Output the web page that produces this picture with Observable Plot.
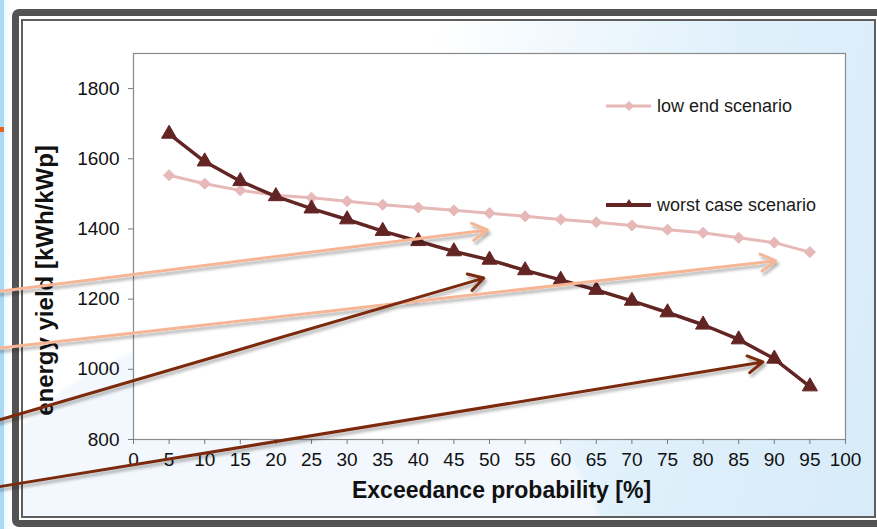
<!DOCTYPE html>
<html><head><meta charset="utf-8">
<script src="https://cdn.jsdelivr.net/npm/d3@7"></script>
<script src="https://cdn.jsdelivr.net/npm/@observablehq/plot@0.6"></script>
<style>
html,body{margin:0;padding:0;background:#fff;}
#wrap{position:relative;width:877px;height:529px;overflow:hidden;background:#fff;font-family:"Liberation Sans",Arial,sans-serif;}
#leftstrip{position:absolute;left:0;top:0;width:12px;height:529px;background:linear-gradient(90deg,#a9d9f3 0,#a9d9f3 4px,#eef7fd 4px,#ffffff 12px);}
#orange{position:absolute;left:0;top:127px;width:4px;height:5px;background:#e8601c;}
#outer{position:absolute;left:12px;top:9px;width:880px;height:518px;box-sizing:border-box;border:7px solid #535353;border-radius:7px;background:#fff;}
#inner{position:absolute;left:21px;top:19px;width:855px;height:499px;box-sizing:border-box;border:2px solid #5e5e5e;
 background:
  radial-gradient(ellipse 330px 260px at 260px 560px,#f2f8fd 0,#f2f8fd 98%,rgba(242,248,253,0) 100%),
  linear-gradient(105deg,#ffffff 0%,#ffffff 42%,#eef7fd 58%,#dff0fb 75%,#d8ebf9 100%);}
#chart{position:absolute;left:0;top:0;}
.leg{position:absolute;left:605px;height:22px;display:flex;align-items:center;font-size:18px;color:#1a1a1a;white-space:nowrap;}
.leg svg{margin-right:4px;}
</style></head><body>
<div id="wrap">
  <div id="leftstrip"></div>
  <div id="orange"></div>
  <div id="outer"></div>
  <div id="inner"></div>
  <div id="chart"></div>
  <div class="leg" style="top:95px">
    <svg width="48" height="20"><line x1="1" y1="10" x2="46" y2="10" stroke="#e6b9b8" stroke-width="3"/><path d="M24 5 L29 10 L24 15 L19 10 Z" fill="#e6b9b8"/></svg>low end scenario</div>
  <div class="leg" style="top:194px">
    <svg width="48" height="20"><line x1="1" y1="10" x2="46" y2="10" stroke="#632523" stroke-width="4"/><path d="M24 4 L29 12 L19 12 Z" fill="#632523"/></svg>worst case scenario</div>
</div>
<script>
// Exceedance probability [%]
const probability = [5,10,15,20,25,30,35,40,45,50,55,60,65,70,75,80,85,90,95];
// energy yield [kWh/kWp]
const lowEnd    = [1553,1529,1510,1496,1489,1479,1469,1461,1453,1445,1436,1427,1419,1410,1398,1389,1375,1361,1334];
const worstCase = [1671,1592,1536,1493,1458,1427,1394,1365,1336,1312,1282,1255,1226,1195,1162,1127,1085,1030,951];
const xTicks = [0,5,10,15,20,25,30,35,40,45,50,55,60,65,70,75,80,85,90,95,100];
const yTicks = [800,1000,1200,1400,1600,1800];
// annotation arrows (data coordinates), pointing at curve regions
const arrowSeries = ["low","low","worst","worst"];
const arrowFromX = [-19,-19,-19,-19];
const arrowFromY = [1222,1060,855,665];
const arrowToX   = [49.7,90.2,49.2,88.4];
const arrowToY   = [1397,1309,1260,1021];

const low = probability.map((p,i)=>({p, v: lowEnd[i]}));
const worst = probability.map((p,i)=>({p, v: worstCase[i]}));
const arrows = arrowSeries.map((s,i)=>({s, x1:arrowFromX[i], y1:arrowFromY[i], x2:arrowToX[i], y2:arrowToY[i]}));

const PINK = "#e6b9b8", DARK = "#632523";
const ARROW = {low:"#f6b696", worst:"#7b2b0e"};
const NARROW = "'Liberation Sans Narrow', 'Arial Narrow', 'Liberation Sans', Arial, sans-serif";

const chart = Plot.plot({
  width: 877, height: 529,
  marginLeft: 133, marginRight: 32, marginTop: 53, marginBottom: 90,
  style: {background:"transparent", fontFamily:"'Liberation Sans', Arial, sans-serif", overflow:"visible"},
  x: {domain:[0,100]},
  y: {domain:[800,1900]},
  marks: [
    Plot.frame({stroke:"#8a8a8a", strokeWidth:1.2, fill:"white"}),
    Plot.axisX({ticks: xTicks, tickSize:5, tickPadding:8, fontSize:19, fontFamily:NARROW, stroke:"#7a7a7a", fill:"#111", label:null, tickFormat:d=>String(d)}),
    Plot.axisY({ticks: yTicks, tickSize:5, tickPadding:9, fontSize:19, fontFamily:NARROW, stroke:"#7a7a7a", fill:"#111", label:null, tickFormat:d=>String(d)}),
    Plot.text(["Exceedance probability [%]"], {frameAnchor:"bottom", dy:58, dx:12, text:d=>d, fontSize:23, fontWeight:"bold", fill:"#111"}),
    Plot.text(["energy yield [kWh/kWp]"], {frameAnchor:"left", textAnchor:"middle", dx:-88, dy:34, rotate:-90, text:d=>d, fontSize:24, fontWeight:"bold", fill:"#111"}),
    Plot.line(low, {x:"p", y:"v", stroke:PINK, strokeWidth:3}),
    Plot.dot(low, {x:"p", y:"v", symbol:"diamond2", r:5, fill:PINK, stroke:PINK, strokeWidth:1}),
    Plot.line(worst, {x:"p", y:"v", stroke:DARK, strokeWidth:3.5}),
    Plot.dot(worst, {x:"p", y:"v", symbol:"triangle", r:5.6, fill:DARK, stroke:DARK, strokeWidth:1}),
    Plot.arrow(arrows, {x1:"x1", y1:"y1", x2:"x2", y2:"y2", stroke:d=>ARROW[d.s], strokeWidth:3, headLength:8.5, headAngle:60})
  ]
});
document.getElementById("chart").appendChild(chart);
const svg = chart.tagName.toLowerCase()==="svg" ? chart : chart.querySelector("svg");
const ns = "http://www.w3.org/2000/svg";
const defs = document.createElementNS(ns,"defs");
defs.innerHTML = '<filter id="sh" x="-10%" y="-50%" width="130%" height="200%"><feDropShadow dx="2" dy="3" stdDeviation="1.6" flood-color="#000" flood-opacity="0.3"/></filter>';
svg.insertBefore(defs, svg.firstChild);
svg.querySelectorAll('g[aria-label="arrow"]').forEach(g=>g.setAttribute("filter","url(#sh)"));
</script>
</body></html>
